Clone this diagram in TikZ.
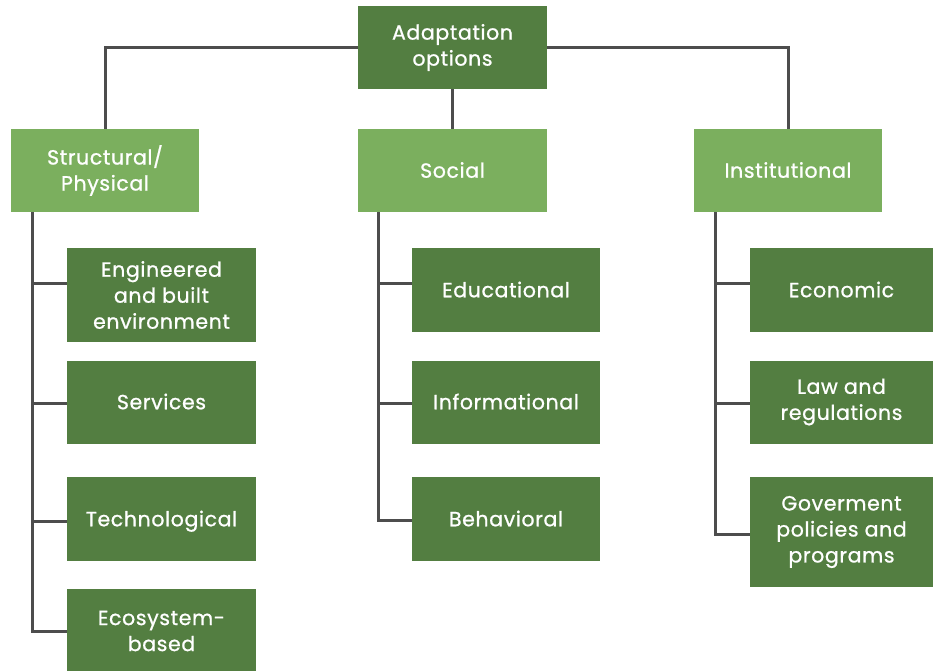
\documentclass[tikz,border=0pt]{standalone}
\usepackage{fontspec}
\setmainfont{Poppins}[FakeBold=0.9,LetterSpace=3]
\definecolor{dkg}{HTML}{537E41}
\definecolor{ltg}{HTML}{7BAF5E}
\definecolor{ln}{HTML}{4D4D4D}
\begin{document}
\begin{tikzpicture}[x=1pt,y=-1pt,
  box/.style={fill=dkg,text=white,inner sep=0pt,align=center,font=\fontsize{20.5}{26}\selectfont},
  lbox/.style={box,fill=ltg},
  one/.style={text height=14.5pt,text depth=0pt},
  conn/.style={draw=ln,line width=3pt}]
\useasboundingbox (0,0) rectangle (933,671);
% top
\node[box,minimum width=189pt,minimum height=83pt] (top) at (452.5,47.5) {Adaptation\\options};
\node[lbox,minimum width=188pt,minimum height=83pt] (str) at (105,170.5) {Structural/\\Physical};
\node[lbox,one,minimum width=189pt,minimum height=83pt] (soc) at (452.5,170.5) {Social};
\node[lbox,one,minimum width=188pt,minimum height=83pt] (ins) at (788,170.5) {Institutional};
% structural children
\node[box,minimum width=189pt,minimum height=94pt] (eng) at (161.5,295) {Engineered\\and built\\environment};
\node[box,one,minimum width=189pt,minimum height=83pt] (ser) at (161.5,402) {Services};
\node[box,one,minimum width=189pt,minimum height=84pt] (tec) at (161.5,519) {Technological};
\node[box,minimum width=189pt,minimum height=84pt] (eco) at (161.5,631) {Ecosystem-\\based};
% social children
\node[box,one,minimum width=188pt,minimum height=84pt] (edu) at (506,290) {Educational};
\node[box,one,minimum width=188pt,minimum height=83pt] (inf) at (506,402) {Informational};
\node[box,one,minimum width=188pt,minimum height=84pt] (beh) at (506,519) {Behavioral};
% institutional children
\node[box,one,minimum width=183pt,minimum height=84pt] (eon) at (841.5,290) {Economic};
\node[box,minimum width=183pt,minimum height=83pt] (law) at (841.5,402) {Law and\\regulations};
\node[box,minimum width=183pt,minimum height=110pt] (gov) at (841.5,532) {Goverment\\policies and\\programs};
% connectors
\draw[conn] (top.west) -| (str.north);
\draw[conn] (top.east) -| (ins.north);
\draw[conn] (top.south) -- (soc.north);
\coordinate (sx) at (32,0);
\coordinate (ox) at (378,0);
\coordinate (ix) at (715,0);
\draw[conn] (str.south -| sx) |- (eco.west |- 0,631);
\draw[conn] (sx |- 0,283) -- (eng.west |- 0,283);
\draw[conn] (sx |- 0,403) -- (ser.west |- 0,403);
\draw[conn] (sx |- 0,521) -- (tec.west |- 0,521);
\draw[conn] (soc.south -| ox) |- (beh.west |- 0,520);
\draw[conn] (ox |- 0,283) -- (edu.west |- 0,283);
\draw[conn] (ox |- 0,403) -- (inf.west |- 0,403);
\draw[conn] (ins.south -| ix) |- (gov.west |- 0,534);
\draw[conn] (ix |- 0,283) -- (eon.west |- 0,283);
\draw[conn] (ix |- 0,403) -- (law.west |- 0,403);
\end{tikzpicture}
\end{document}
